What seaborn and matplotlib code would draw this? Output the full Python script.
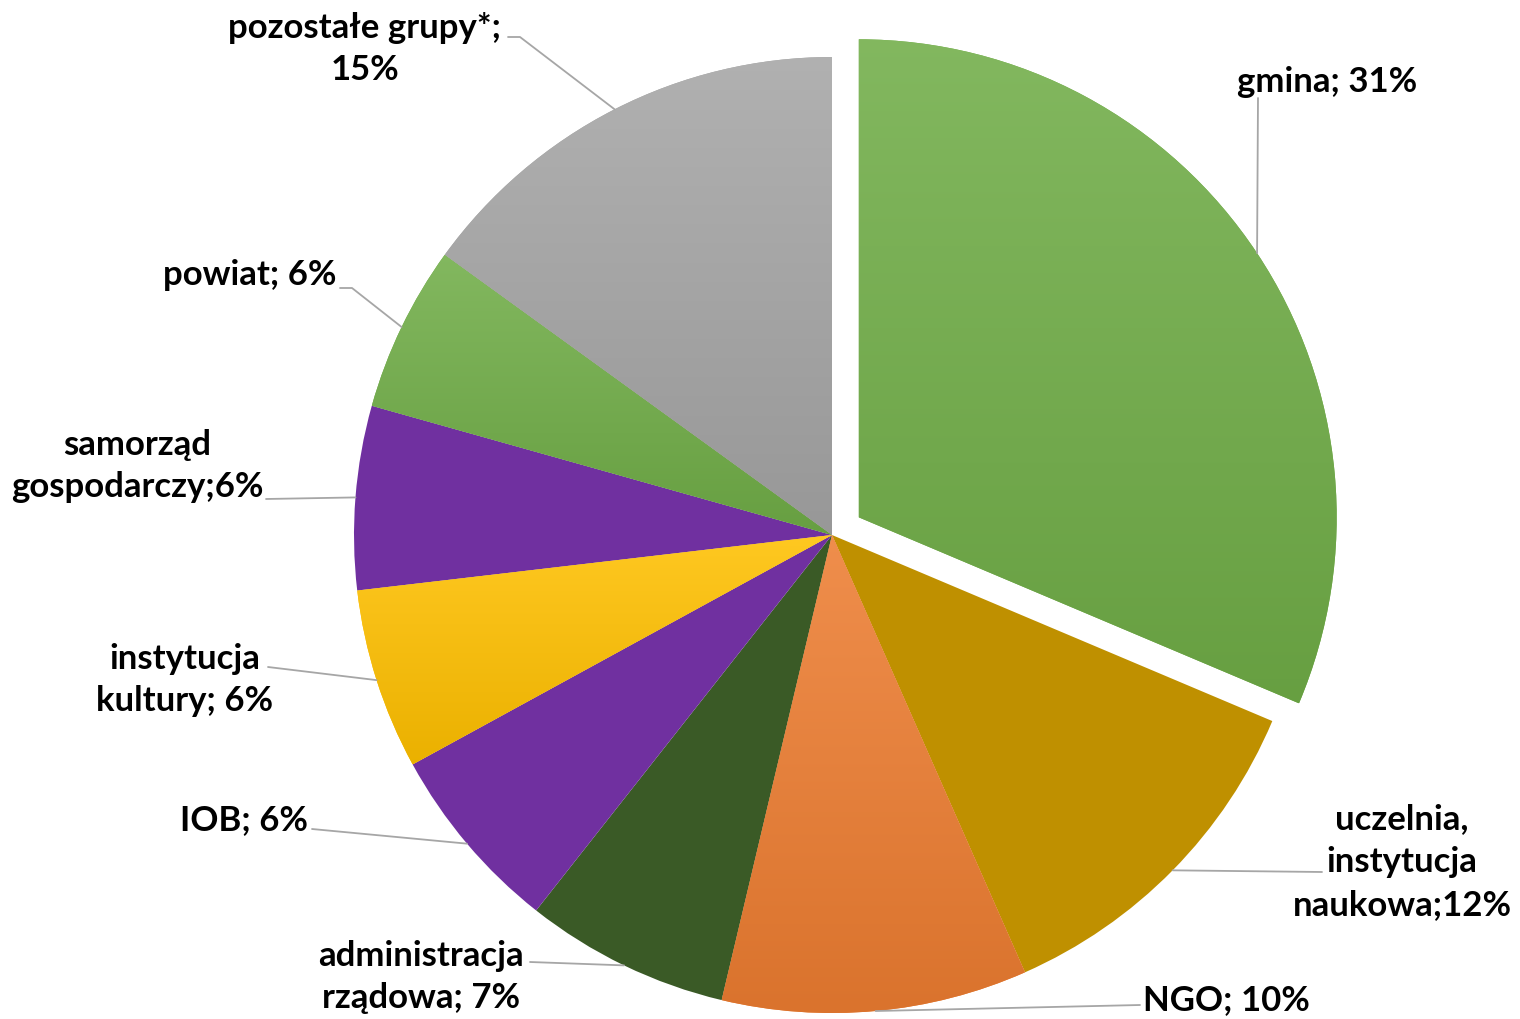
import numpy as np
import matplotlib.pyplot as plt
import matplotlib.colors as mcolors
import seaborn as sns

# Data (shares; labels as printed on the chart)
labels = ["gmina; 31%", "uczelnia,\ninstytucja\nnaukowa;12%", "NGO; 10%",
          "administracja\nrządowa; 7%", "IOB; 6%", "instytucja\nkultury; 6%",
          "samorząd\ngospodarczy;6%", "powiat; 6%", "pozostałe grupy*;\n15%"]
shares = [31.3, 12.0, 10.3, 6.9, 6.4, 6.1, 6.2, 5.6, 15.0]
colors = ["#70ad47", "#bf9000", "#ed7d31", "#3a5a26", "#7030a0",
          "#ffc000", "#7030a0", "#70ad47", "#a5a5a5"]
gradient = [1, 0, 1, 0, 0, 1, 0, 1, 1]  # which slices have the gradient fill
explode = [0.067, 0, 0, 0, 0, 0, 0, 0, 0]

# label layout in pixels: text position, alignment, leader line points (text side)
label_pos = [(1327, 82, "center"), (1402, 862, "center"), (1143, 1000, "left"),
             (421, 977, "center"), (308, 820, "right"), (185, 680, "center"),
             (137, 466, "center"), (337, 275, "right"), (365, 49, "center")]
leader_pts = [[(1258, 98)], [(1322, 872)], [(1140, 1005)], [(530, 962)],
              [(312, 829)], [(268, 667)], [(266, 499)],
              [(352, 288), (340, 288)], [(520, 37), (508, 37)]]

sns.set_theme(style="white")
plt.rcParams['font.family'] = ['Lato', 'DejaVu Sans']

W, H = 1520, 1019
cx, cy, R = 832, 535, 478


def px(x, y):
    return (x - cx) / R, (cy - y) / R


fig = plt.figure(figsize=(W / 100, H / 100), dpi=100)
ax = fig.add_axes([0, 0, 1, 1])

wedges, _ = ax.pie(shares, colors=colors, explode=explode, startangle=90,
                   counterclock=False, wedgeprops=dict(linewidth=0))

# vertical gradient fill on some slices, lighter at the top
grad = np.linspace(0, 1, 256).reshape(-1, 1)
for w, c, g in zip(wedges, colors, gradient):
    if not g:
        continue
    base = np.array(mcolors.to_rgb(c))
    top = base + (1 - base) * 0.13
    bot = base * 0.92
    cmap = mcolors.LinearSegmentedColormap.from_list("g", [top, bot])
    bb = w.get_path().get_extents()
    im = ax.imshow(grad, cmap=cmap, extent=[bb.x0, bb.x1, bb.y0, bb.y1],
                   origin="upper", aspect="auto", zorder=w.get_zorder() + 0.1,
                   interpolation="bilinear")
    im.set_clip_path(w)

# labels and leader lines
for w, lab, (tx, ty, ha), pts in zip(wedges, labels, label_pos, leader_pts):
    th = np.deg2rad((w.theta1 + w.theta2) / 2)
    ax0 = w.center[0] + w.r * np.cos(th)
    ay0 = w.center[1] + w.r * np.sin(th)
    xs = [ax0] + [px(*p)[0] for p in pts]
    ys = [ay0] + [px(*p)[1] for p in pts]
    ax.plot(xs, ys, color="#a6a6a6", lw=1.3, zorder=5)
    x, y = px(tx, ty)
    ax.text(x, y, lab, ha=ha, va="center", multialignment="center",
            fontsize=25, fontweight="bold", color="black", linespacing=1.42,
            zorder=6)

ax.set_aspect("auto")
ax.set_xlim(-cx / R, (W - cx) / R)
ax.set_ylim(-(H - cy) / R, cy / R)
ax.axis("off")

fig.savefig("out.png", dpi=100, facecolor="white")
